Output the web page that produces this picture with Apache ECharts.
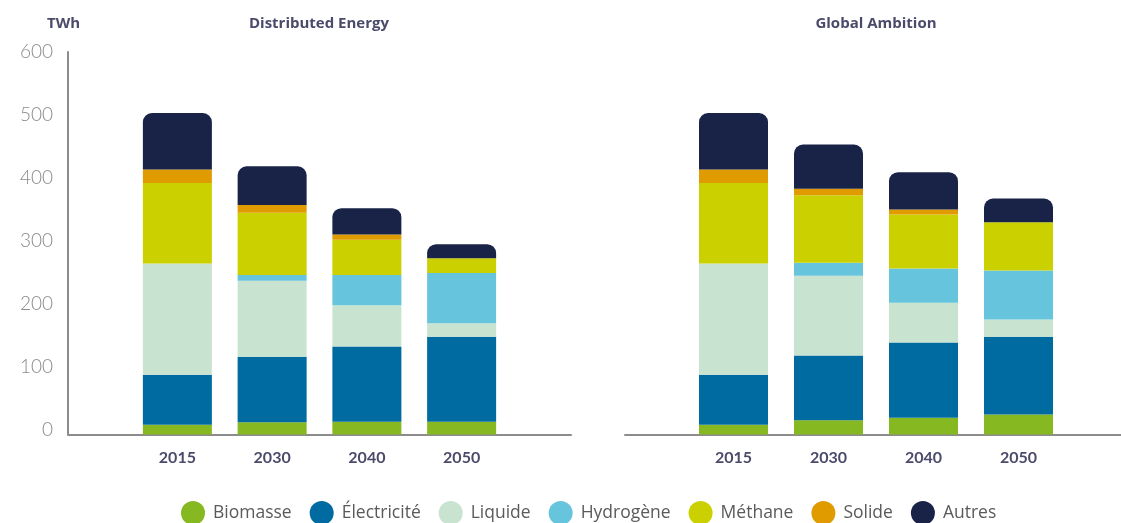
<!DOCTYPE html>
<html>
<head>
<meta charset="utf-8">
<script src="https://cdn.jsdelivr.net/npm/echarts@6/dist/echarts.min.js"></script>
<style>
html,body{margin:0;padding:0;background:#fff;}
#c{width:1121px;height:523px;}
</style>
</head>
<body>
<div id="c"></div>
<script>
// ---- Data ----
const categories = ['2015', '2030', '2040', '2050'];
const seriesNames = ['Biomasse', 'Électricité', 'Liquide', 'Hydrogène', 'Méthane', 'Solide', 'Autres'];
const yTicks = [0, 100, 200, 300, 400, 500, 600];
const panelTitles = ['Distributed Energy', 'Global Ambition'];
const unitLabel = 'TWh';

// Distributed Energy (TWh)
const deBiomasse    = [15, 19, 20, 20];
const deElectricite = [78, 102, 117, 132];
const deLiquide     = [173, 118, 64, 21];
const deHydrogene   = [0, 9, 47, 78];
const deMethane     = [125, 97, 55, 23];
const deSolide      = [21, 12, 8, 0];
const deAutres      = [88, 60, 41, 22];

// Global Ambition (TWh)
const gaBiomasse    = [15, 22, 26, 31];
const gaElectricite = [78, 101, 117, 121];
const gaLiquide     = [173, 124, 62, 27];
const gaHydrogene   = [0, 20, 53, 76];
const gaMethane     = [125, 105, 84, 75];
const gaSolide      = [21, 10, 8, 0];
const gaAutres      = [88, 69, 58, 37];

const colors = ['#86b822', '#006ba1', '#c8e3d0', '#66c5dc', '#cbd100', '#e09b00', '#182347'];

const deData = [deBiomasse, deElectricite, deLiquide, deHydrogene, deMethane, deSolide, deAutres];
const gaData = [gaBiomasse, gaElectricite, gaLiquide, gaHydrogene, gaMethane, gaSolide, gaAutres];

const FONT = 'Lato, "Open Sans", sans-serif';
const WIDE = '"Open Sans", Lato, sans-serif';
const AXIS_COLOR = '#8c8c8c';
const barTop = 48.7, axisBottom = 434.5;

function makeSeries(dataSets, axisIndex, stackName) {
  return dataSets.map((d, i) => ({
    name: seriesNames[i],
    type: 'bar',
    stack: stackName,
    xAxisIndex: axisIndex,
    yAxisIndex: axisIndex,
    barWidth: 69,
    data: d,
    itemStyle: {
      color: colors[i],
      borderRadius: i === seriesNames.length - 1 ? [9, 9, 0, 0] : 0
    },
    emphasis: { disabled: true }
  }));
}

const chart = echarts.init(document.getElementById('c'), null, { renderer: 'canvas' });

const titleStyle = { fontFamily: WIDE, fontSize: 15, fontWeight: 'bold', color: '#4b4a6b' };

const option = {
  animation: false,
  backgroundColor: '#ffffff',
  textStyle: { fontFamily: FONT },
  title: [
    { text: unitLabel, left: 47, top: 16, padding: 0, textStyle: titleStyle },
    { text: panelTitles[0], left: 319, top: 16, padding: 0, textAlign: 'center', textStyle: titleStyle },
    { text: panelTitles[1], left: 876, top: 16, padding: 0, textAlign: 'center', textStyle: titleStyle }
  ],
  legend: {
    data: seriesNames,
    left: 181,
    top: 501,
    padding: 0,
    icon: 'circle',
    itemWidth: 24,
    itemHeight: 24,
    itemGap: 18,
    textStyle: { fontFamily: WIDE, fontSize: 17.5, color: '#5a5a5c', padding: [0, 0, 0, 3] }
  },
  grid: [
    // bar grids
    { left: 130, width: 379, top: barTop, height: axisBottom - barTop },
    { left: 686, width: 380, top: barTop, height: axisBottom - barTop },
    // axis frames
    { left: 68, width: 503, top: 52, height: axisBottom - 52 },
    { left: 625, width: 496, top: 52, height: axisBottom - 52 },
    // tick-label column
    { left: 68, width: 10, top: 52, height: 377.5 }
  ],
  xAxis: [
    {
      gridIndex: 0, type: 'category', data: categories,
      axisLine: { show: false }, axisTick: { show: false },
      axisLabel: { fontFamily: FONT, fontSize: 16, fontWeight: 'bold', color: '#4b4a6b', margin: 15 }
    },
    {
      gridIndex: 1, type: 'category', data: categories,
      axisLine: { show: false }, axisTick: { show: false },
      axisLabel: { fontFamily: FONT, fontSize: 16, fontWeight: 'bold', color: '#4b4a6b', margin: 15 }
    },
    {
      gridIndex: 2, type: 'value', min: 0, max: 1,
      axisLine: { show: true, onZero: false, lineStyle: { color: AXIS_COLOR, width: 2 } },
      axisTick: { show: false }, axisLabel: { show: false }, splitLine: { show: false }
    },
    {
      gridIndex: 3, type: 'value', min: 0, max: 1,
      axisLine: { show: true, onZero: false, lineStyle: { color: AXIS_COLOR, width: 2 } },
      axisTick: { show: false }, axisLabel: { show: false }, splitLine: { show: false }
    },
    { gridIndex: 4, type: 'value', min: 0, max: 1, show: false }
  ],
  yAxis: [
    { gridIndex: 0, type: 'value', min: 0, max: 600, show: false },
    { gridIndex: 1, type: 'value', min: 0, max: 600, show: false },
    {
      gridIndex: 2, type: 'value', min: 0, max: 600,
      axisLine: { show: true, onZero: false, lineStyle: { color: AXIS_COLOR, width: 2 } },
      axisTick: { show: false }, splitLine: { show: false }, axisLabel: { show: false }
    },
    { gridIndex: 3, type: 'value', min: 0, max: 600, show: false },
    {
      gridIndex: 4, type: 'value', min: yTicks[0], max: yTicks[yTicks.length - 1], interval: 100,
      axisLine: { show: false }, axisTick: { show: false }, splitLine: { show: false },
      axisLabel: { fontFamily: FONT, fontSize: 19, fontWeight: 300, color: '#8a8a8a', margin: 15 }
    }
  ],
  series: [].concat(makeSeries(deData, 0, 'de'), makeSeries(gaData, 1, 'ga'))
};

chart.setOption(option);
</script>
</body>
</html>
